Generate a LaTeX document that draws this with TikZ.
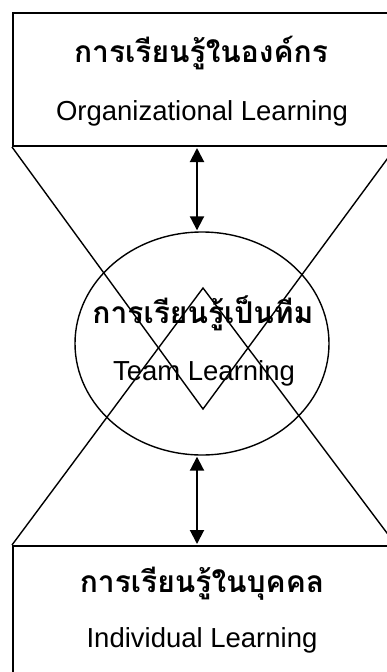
\documentclass[tikz,border=0pt]{standalone}
\usepackage{fontspec}
\setmainfont{Liberation Sans}
\newfontfamily\thaifont[Script=Thai]{Loma}
\usetikzlibrary{shapes.geometric,arrows.meta}
\tikzset{
  boxnode/.style={draw=black, line width=2pt, anchor=north west, inner sep=0pt},
  funnel/.style={draw=black, line width=1.4pt, line join=miter},
  arr/.style={draw=black, line width=2pt, {Triangle[length=14pt,width=14pt]}-{Triangle[length=14pt,width=14pt]}, shorten <=1pt, shorten >=1pt},
  thaitxt/.style={anchor=base, font=\thaifont\bfseries\fontsize{30}{32}\selectfont, inner sep=0pt},
  engtxt/.style={anchor=base, font=\fontsize{27.5}{30}\selectfont, inner sep=0pt}
}
\begin{document}
\begin{tikzpicture}[x=1pt,y=-1pt]
\useasboundingbox (0,0) rectangle (387,672);
\clip (0,0) rectangle (387,672);
\node[boxnode, minimum width=382pt, minimum height=133pt] (top) at (12,12) {};
\node[boxnode, minimum width=382pt, minimum height=160pt] (bot) at (12,545) {};
\coordinate (vtop) at (203,409);
\coordinate (vbot) at (203,288);
\coordinate (ax) at (197,0);
\draw[funnel] (top.south west) -- (vtop) -- (top.south east);
\draw[funnel] (bot.north west) -- (vbot) -- (bot.north east);
\node[draw=black, line width=1.4pt, ellipse, minimum width=254pt, minimum height=223pt, inner sep=0pt] (ell) at (202,343.5) {};
\draw[arr] (top.south -| ax) -- (ell.north -| ax);
\draw[arr] (ell.south -| ax) -- (bot.north -| ax);
\node[thaitxt] (t1) at (201,62) {การเรียนรู้ในองค์กร};
\node[engtxt] (e1) at (202,120) {Organizational Learning};
\node[thaitxt] (t2) at (203,323) {การเรียนรู้เป็นทีม};
\node[engtxt] (e2) at (204,380) {Team Learning};
\node[thaitxt] (t3) at (202,592) {การเรียนรู้ในบุคคล};
\node[engtxt] (e3) at (202,647) {Individual Learning};
\end{tikzpicture}
\end{document}
